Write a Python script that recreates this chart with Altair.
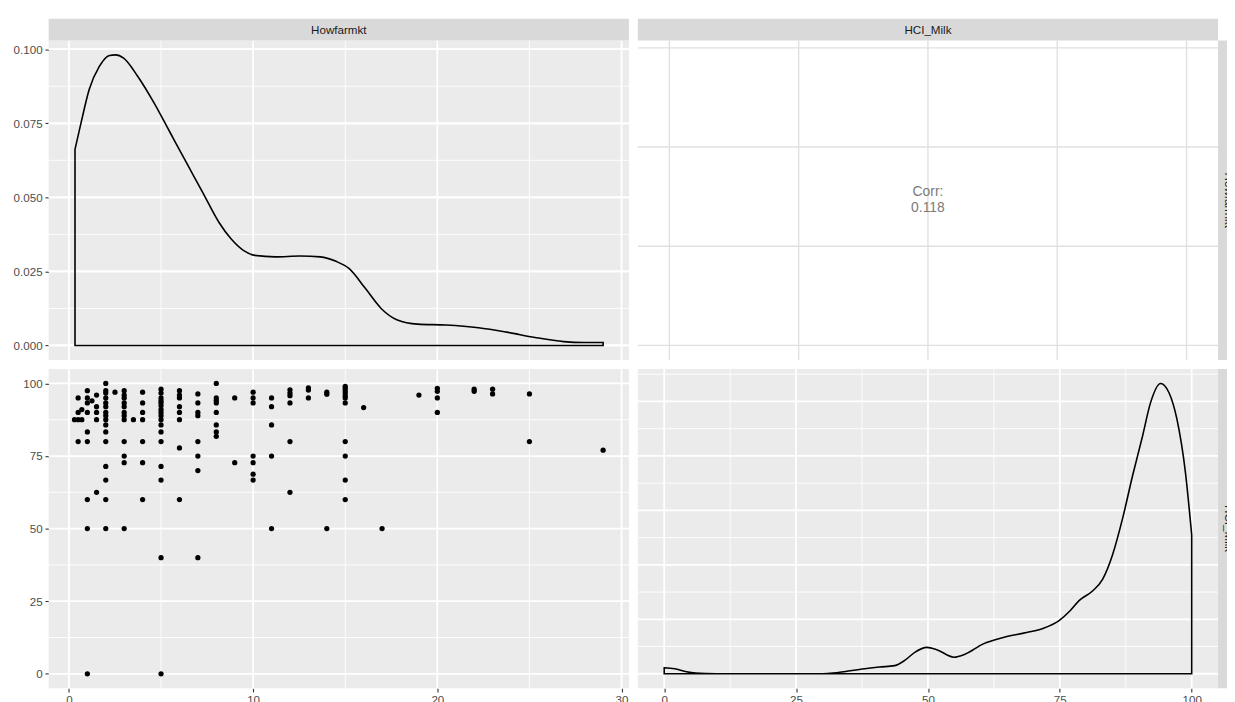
import altair as alt
import pandas as pd

# ---------------- data ----------------
title_text = "Household commercialisation index."
var_names = ["Howfarmkt", "HCI_Milk"]
corr_lines = ["Corr:", "0.118"]

# scatter: Howfarmkt level -> HCI_Milk values seen at that level
howfarmkt_levels = [0.3, 0.5, 0.7, 1, 1.25, 1.5, 2, 2.5, 3, 3.5, 4, 5, 6, 7, 8, 9,
                    10, 11, 12, 13, 14, 15, 16, 17, 19, 20, 22, 23, 25, 29]
hci_milk_by_level = [
    [87.5],
    [87.5, 95, 80, 90],
    [87.5, 91],
    [97.5, 95, 93.3, 90, 83.3, 80, 60, 50, 0],
    [94],
    [96, 92, 90, 87.5, 62.5],
    [100, 97.5, 96.7, 95, 93.3, 92, 90, 88.9, 87.5, 85.7, 83.3, 80, 71.4, 66.7, 60, 50],
    [97],
    [97.5, 96, 95, 93.3, 92, 90, 88.9, 87.5, 80, 75, 72.7, 50],
    [87.5],
    [97, 93.3, 90, 87.5, 80, 72.7, 60],
    [98, 96.7, 95, 94, 93.3, 92.3, 91, 90, 88.9, 87.5, 85.7, 83.3, 80, 71.4, 66.7, 40, 0],
    [97.5, 96, 95, 92, 90, 87.5, 77.8, 60],
    [96.4, 93.3, 90, 88.9, 80, 75, 70, 40],
    [100, 95, 94.1, 93.3, 90, 85.7, 83.3, 81.8],
    [95, 72.7],
    [97, 95, 93.3, 75, 72.7, 68.75, 66.7],
    [95, 92, 85.7, 75, 50],
    [97.8, 96.7, 95.8, 93.3, 80, 62.5],
    [98.5, 97.7, 95],
    [97, 96.3, 50],
    [99, 98.3, 97.5, 96.7, 95.8, 95, 93.3, 80, 75, 66.7, 60],
    [91.7],
    [50],
    [96],
    [98.3, 97.3, 95, 90],
    [98, 97.3],
    [98, 96.4],
    [96.4, 80],
    [77],
]

# density of Howfarmkt (diagonal, top-left)
dens1_x = [0.33, 0.66, 1.1, 1.65, 2.2, 2.53, 2.97, 3.74, 4.62, 5.5, 6.38, 7.26, 8.14,
           8.8, 9.47, 10.1, 11.2, 12.55, 13.65, 14.5, 15.2, 16.1, 16.95, 17.83, 18.93,
           20.47, 22.23, 23.77, 25.3, 26.86, 27.96, 29.0]
dens1_y = [0.0662, 0.0752, 0.0864, 0.0942, 0.0979, 0.0981, 0.0970, 0.0908, 0.0819,
           0.0718, 0.0617, 0.0517, 0.0416, 0.0360, 0.0321, 0.0304, 0.0299, 0.0302,
           0.0299, 0.0284, 0.0260, 0.0192, 0.0125, 0.0086, 0.0072, 0.0069, 0.0060,
           0.0045, 0.0027, 0.0013, 0.0010, 0.0010]

# density of HCI_Milk (diagonal, bottom-right)
dens2_x = [0, 2, 4, 6, 8, 10, 30, 32, 34.4, 38, 40.8, 43.7, 45.6, 47.5, 49.8, 51.8,
           54.9, 57.1, 60.5, 64.3, 68.7, 71.8, 74.8, 76.9, 78.7, 81.2, 83.1, 85.0,
           86.9, 88.8, 90.7, 92.2, 94.1, 95.7, 97.2, 98.8, 100]
dens2_y = [0.00109, 0.00091, 0.00043, 0.00011, 0.00002, 0.0, 0.0, 0.00011, 0.00043,
           0.00091, 0.00123, 0.00149, 0.00245, 0.00394, 0.00485, 0.00437, 0.00304,
           0.00362, 0.00549, 0.00666, 0.00757, 0.00831, 0.00970, 0.01151, 0.01348,
           0.01519, 0.01732, 0.02185, 0.02852, 0.03640, 0.04371, 0.04978, 0.05330,
           0.05160, 0.04674, 0.03704, 0.02548]

# tick / grid break values
x1_major = [0, 10, 20, 30]
x1_minor = [5, 15, 25]
x2_major = [0, 25, 50, 75, 100]
x2_minor = [12.5, 37.5, 62.5, 87.5]
y1_major = [0, 0.025, 0.05, 0.075, 0.1]
y1_minor = [0.0125, 0.0375, 0.0625, 0.0875]
d2_major = [0, 0.01, 0.02, 0.03, 0.04, 0.05]
d2_minor = [0.005, 0.015, 0.025, 0.035, 0.045, 0.055]
cor_y_major = [0, 10, 20, 30]

# ---------------- style ----------------
W, H, S, GAP = 585, 322, 22, 7
PANEL, STRIP = "#EBEBEB", "#D9D9D9"
FONT = "Liberation Sans"
MAJ, MIN = 1.8, 0.9

X1 = [-1.1, 30.4]
X2 = [-5, 105]
XC = [-6.1, 106.1]
Y1 = [-0.0049, 0.1029]
YC = [-1.47, 30.73]
Y2 = [-5, 105]
YD2 = [-0.00267, 0.05597]

AX = dict(title=None, grid=False, domain=False, labelFont=FONT, labelFontSize=11.7,
          labelColor="#4D4D4D", tickColor="#333333", tickSize=3.7, tickWidth=1.1,
          labelPadding=2.9, ticks=True, labels=True)


def sc(dom):
    return alt.Scale(domain=dom, nice=False, zero=False)


def xaxis(vals):
    return alt.Axis(values=vals, format="d", orient="bottom", **AX)


def yaxis(vals, fmt):
    return alt.Axis(values=vals, format=fmt, orient="left", **AX)


def vrules(vals, dom, color, w, axis):
    return alt.Chart(pd.DataFrame({"v": vals})).mark_rule(color=color, strokeWidth=w).encode(
        x=alt.X("v:Q", scale=sc(dom), axis=axis, title=None))


def hrules(vals, dom, color, w, axis):
    return alt.Chart(pd.DataFrame({"v": vals})).mark_rule(color=color, strokeWidth=w).encode(
        y=alt.Y("v:Q", scale=sc(dom), axis=axis, title=None))


def density(xs, ys, xdom, ydom, xax, yax):
    df = pd.DataFrame({"x": xs, "d": ys})
    return alt.Chart(df).mark_area(
        color="black", fillOpacity=0, stroke="black", strokeWidth=1.6,
        interpolate="monotone").encode(
        x=alt.X("x:Q", scale=sc(xdom), axis=xax, title=None),
        y=alt.Y("d:Q", scale=sc(ydom), axis=yax, title=None),
        y2=alt.datum(0))


def strip_top(label):
    df = pd.DataFrame({"label": [label]})
    box = alt.Chart(df).mark_rect(color=STRIP).encode(
        x=alt.value(0), x2=alt.value(W), y=alt.value(-S), y2=alt.value(0))
    txt = alt.Chart(df).mark_text(font=FONT, fontSize=11.7, color="#1A1A1A").encode(
        text="label:N", x=alt.value(W / 2), y=alt.value(-S / 2))
    return [box, txt]


def strip_right(label):
    df = pd.DataFrame({"label": [label]})
    box = alt.Chart(df).mark_rect(color=STRIP).encode(
        x=alt.value(W), x2=alt.value(W + S), y=alt.value(0), y2=alt.value(H))
    txt = alt.Chart(df).mark_text(font=FONT, fontSize=11.7, color="#1A1A1A", angle=90).encode(
        text="label:N", x=alt.value(W + S / 2), y=alt.value(H / 2))
    return [box, txt]


def panel(*layers, fill=PANEL):
    return alt.layer(*layers).properties(
        width=W, height=H, view=alt.ViewBackground(fill=fill))


# top-left: density of Howfarmkt (y axis only)
ya1 = yaxis(y1_major, ".3f")
p11 = panel(
    hrules(y1_major, Y1, "white", MAJ, ya1),
    hrules(y1_minor, Y1, "white", MIN, ya1),
    vrules(x1_minor, X1, "white", MIN, None),
    hrules(y1_major, Y1, "white", MAJ, ya1),
    vrules(x1_major, X1, "white", MAJ, None),
    density(dens1_x, dens1_y, X1, Y1, None, ya1),
    *strip_top(var_names[0]),
)


def corr_text(label, dy):
    return alt.Chart(pd.DataFrame({"label": [label]})).mark_text(
        font=FONT, fontSize=14, color="#7A7A7A", baseline="middle", align="center",
        dy=dy).encode(text="label:N", x=alt.value(W / 2), y=alt.value(H / 2))


# top-right: correlation text (no axes)
p12 = panel(
    vrules(x2_major, XC, "#E0E0E0", 1.4, None),
    hrules(cor_y_major, YC, "#E0E0E0", 1.4, None),
    corr_text(corr_lines[0], -8),
    corr_text(corr_lines[1], 8),
    *strip_top(var_names[1]),
    *strip_right(var_names[0]),
    fill="white",
)

# bottom-left: scatter (x and y axes)
hx, hy = [], []
for lev, vals in zip(howfarmkt_levels, hci_milk_by_level):
    for v in vals:
        hx.append(lev)
        hy.append(v)
scatter_df = pd.DataFrame({"Howfarmkt": hx, "HCI_Milk": hy})

xa1 = xaxis(x1_major)
ya2 = yaxis(x2_major, "d")
p21 = panel(
    vrules(x1_minor, X1, "white", MIN, xa1),
    hrules(x2_minor, Y2, "white", MIN, ya2),
    vrules(x1_major, X1, "white", MAJ, xa1),
    hrules(x2_major, Y2, "white", MAJ, ya2),
    alt.Chart(scatter_df).mark_circle(size=28, color="black", opacity=1).encode(
        x=alt.X("Howfarmkt:Q", scale=sc(X1), axis=xa1, title=None),
        y=alt.Y("HCI_Milk:Q", scale=sc(Y2), axis=ya2, title=None)),
)

# bottom-right: density of HCI_Milk (x axis only)
xa2 = xaxis(x2_major)
p22 = panel(
    vrules(x2_minor, X2, "white", MIN, xa2),
    hrules(d2_minor, YD2, "white", MIN, None),
    vrules(x2_major, X2, "white", MAJ, xa2),
    hrules(d2_major, YD2, "white", MAJ, None),
    density(dens2_x, dens2_y, X2, YD2, xa2, None),
    *strip_right(var_names[1]),
)

chart = alt.concat(p11, p12, p21, p22, columns=2, spacing=GAP).properties(
    title=alt.TitleParams(title_text, anchor="start", frame="bounds",
                          font="Liberation Serif", fontSize=22, fontWeight="normal",
                          color="black", offset=6),
    padding={"top": -21, "left": 5, "right": -13, "bottom": 0},
).configure_view(stroke=None)

chart.save("out.html", embed_options={"renderer": "svg", "actions": False})
